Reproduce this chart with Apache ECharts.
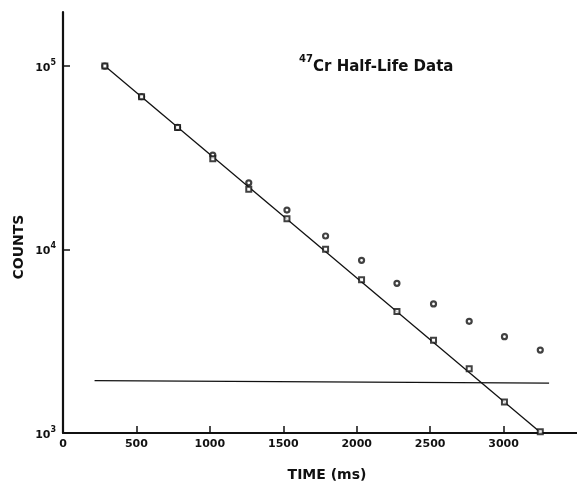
<!DOCTYPE html>
<html>
<head>
<meta charset="utf-8">
<title>47Cr Half-Life Data</title>
<script src="https://cdn.jsdelivr.net/npm/echarts@6/dist/echarts.min.js"></script>
<style>
  html, body { margin: 0; padding: 0; background: #fff; }
  #chart { width: 577px; height: 484px; }
</style>
</head>
<body>
<div id="chart"></div>
<script>
// time of each measurement (ms)
var times = [285, 535, 780, 1020, 1265, 1525, 1788, 2033, 2274, 2523, 2766, 3006, 3250];
// raw counts (round markers)
var rawCounts = [100000, 68000, 46300, 32700, 23100, 16400, 11850, 8730, 6540, 5050, 4060, 3350, 2830];
// background-subtracted counts (square markers)
var netCounts = [100000, 68000, 46300, 31200, 21300, 14700, 10030, 6850, 4600, 3200, 2240, 1475, 1016];
// fitted decay line end points
var fitTimes = [285, 3250];
var fitCounts = [100000, 1010];
// background level line
var bgTimes = [215, 3310];
var bgCounts = [1930, 1870];
// axis ticks
var xTicks = [0, 500, 1000, 1500, 2000, 2500, 3000];
var yTicks = [1000, 10000, 100000];

var FONT = 'DejaVu Sans';
var INK = '#111';

function pairs(xs, ys){
  var out = [];
  for(var i=0;i<xs.length;i++) out.push([xs[i], ys[i]]);
  return out;
}

function buildOption(){
  return {
    animation: false,
    backgroundColor: '#fff',
    grid: { left: 63, right: 0, top: 12, bottom: 51 },
    xAxis: {
      type: 'value', min: 0, max: 3500, interval: 500,
      splitLine: { show: false },
      axisLine: { onZero: false, lineStyle: { color: INK, width: 1.8 } },
      axisTick: { inside: true, length: 7, customValues: xTicks, lineStyle: { color: INK, width: 1.5 } },
      axisLabel: {
        customValues: xTicks, margin: 6, color: INK, fontFamily: FONT, fontWeight: 'bold', fontSize: 11,
        formatter: function(v){ return String(v); }
      }
    },
    yAxis: {
      type: 'log', logBase: 10, min: 1000, max: 197000,
      splitLine: { show: false },
      axisLine: { lineStyle: { color: INK, width: 2.2 } },
      axisTick: { inside: true, length: 7, customValues: yTicks, lineStyle: { color: INK, width: 1.5 } },
      axisLabel: {
        customValues: yTicks, margin: 7,
        formatter: function(v){ return '{b|10}{s|' + Math.round(Math.log10(v)) + '}'; },
        rich: {
          b: { fontFamily: FONT, fontWeight: 'bold', fontSize: 11, color: INK, lineHeight: 15, verticalAlign: 'bottom' },
          s: { fontFamily: FONT, fontWeight: 'bold', fontSize: 8, color: INK, lineHeight: 15, verticalAlign: 'top' }
        }
      }
    },
    series: [
      {
        type: 'line', data: pairs(bgTimes, bgCounts), showSymbol: false, silent: true,
        lineStyle: { color: INK, width: 1.3 }
      },
      {
        type: 'line', data: pairs(fitTimes, fitCounts), showSymbol: false, silent: true,
        lineStyle: { color: INK, width: 1.3 }
      },
      {
        type: 'scatter', data: pairs(times, rawCounts), symbol: 'circle', symbolSize: 5, z: 5,
        itemStyle: { color: '#fff', borderColor: INK, borderWidth: 2.2 }
      },
      {
        type: 'scatter', data: pairs(times, netCounts), symbol: 'rect', symbolSize: 5, z: 6,
        itemStyle: { color: '#fff', borderColor: INK, borderWidth: 2 }
      }
    ],
    graphic: [
      { type: 'text', x: 299, y: 54, style: { text: '47', font: 'bold 10px "' + FONT + '"', fill: INK } },
      { type: 'text', x: 313, y: 60, style: { text: 'Cr Half-Life Data', font: 'bold 15px "' + FONT + '"', fill: INK } },
      { type: 'text', x: 19, y: 247, rotation: Math.PI / 2,
        style: { text: 'COUNTS', font: 'bold 14px "' + FONT + '"', fill: INK, align: 'center', verticalAlign: 'middle' } },
      { type: 'text', x: 327, y: 475,
        style: { text: 'TIME (ms)', font: 'bold 14px "' + FONT + '"', fill: INK, align: 'center', verticalAlign: 'middle' } }
    ]
  };
}

var chart = echarts.init(document.getElementById('chart'), null, { renderer: 'canvas' });
chart.setOption(buildOption());
</script>
</body>
</html>
